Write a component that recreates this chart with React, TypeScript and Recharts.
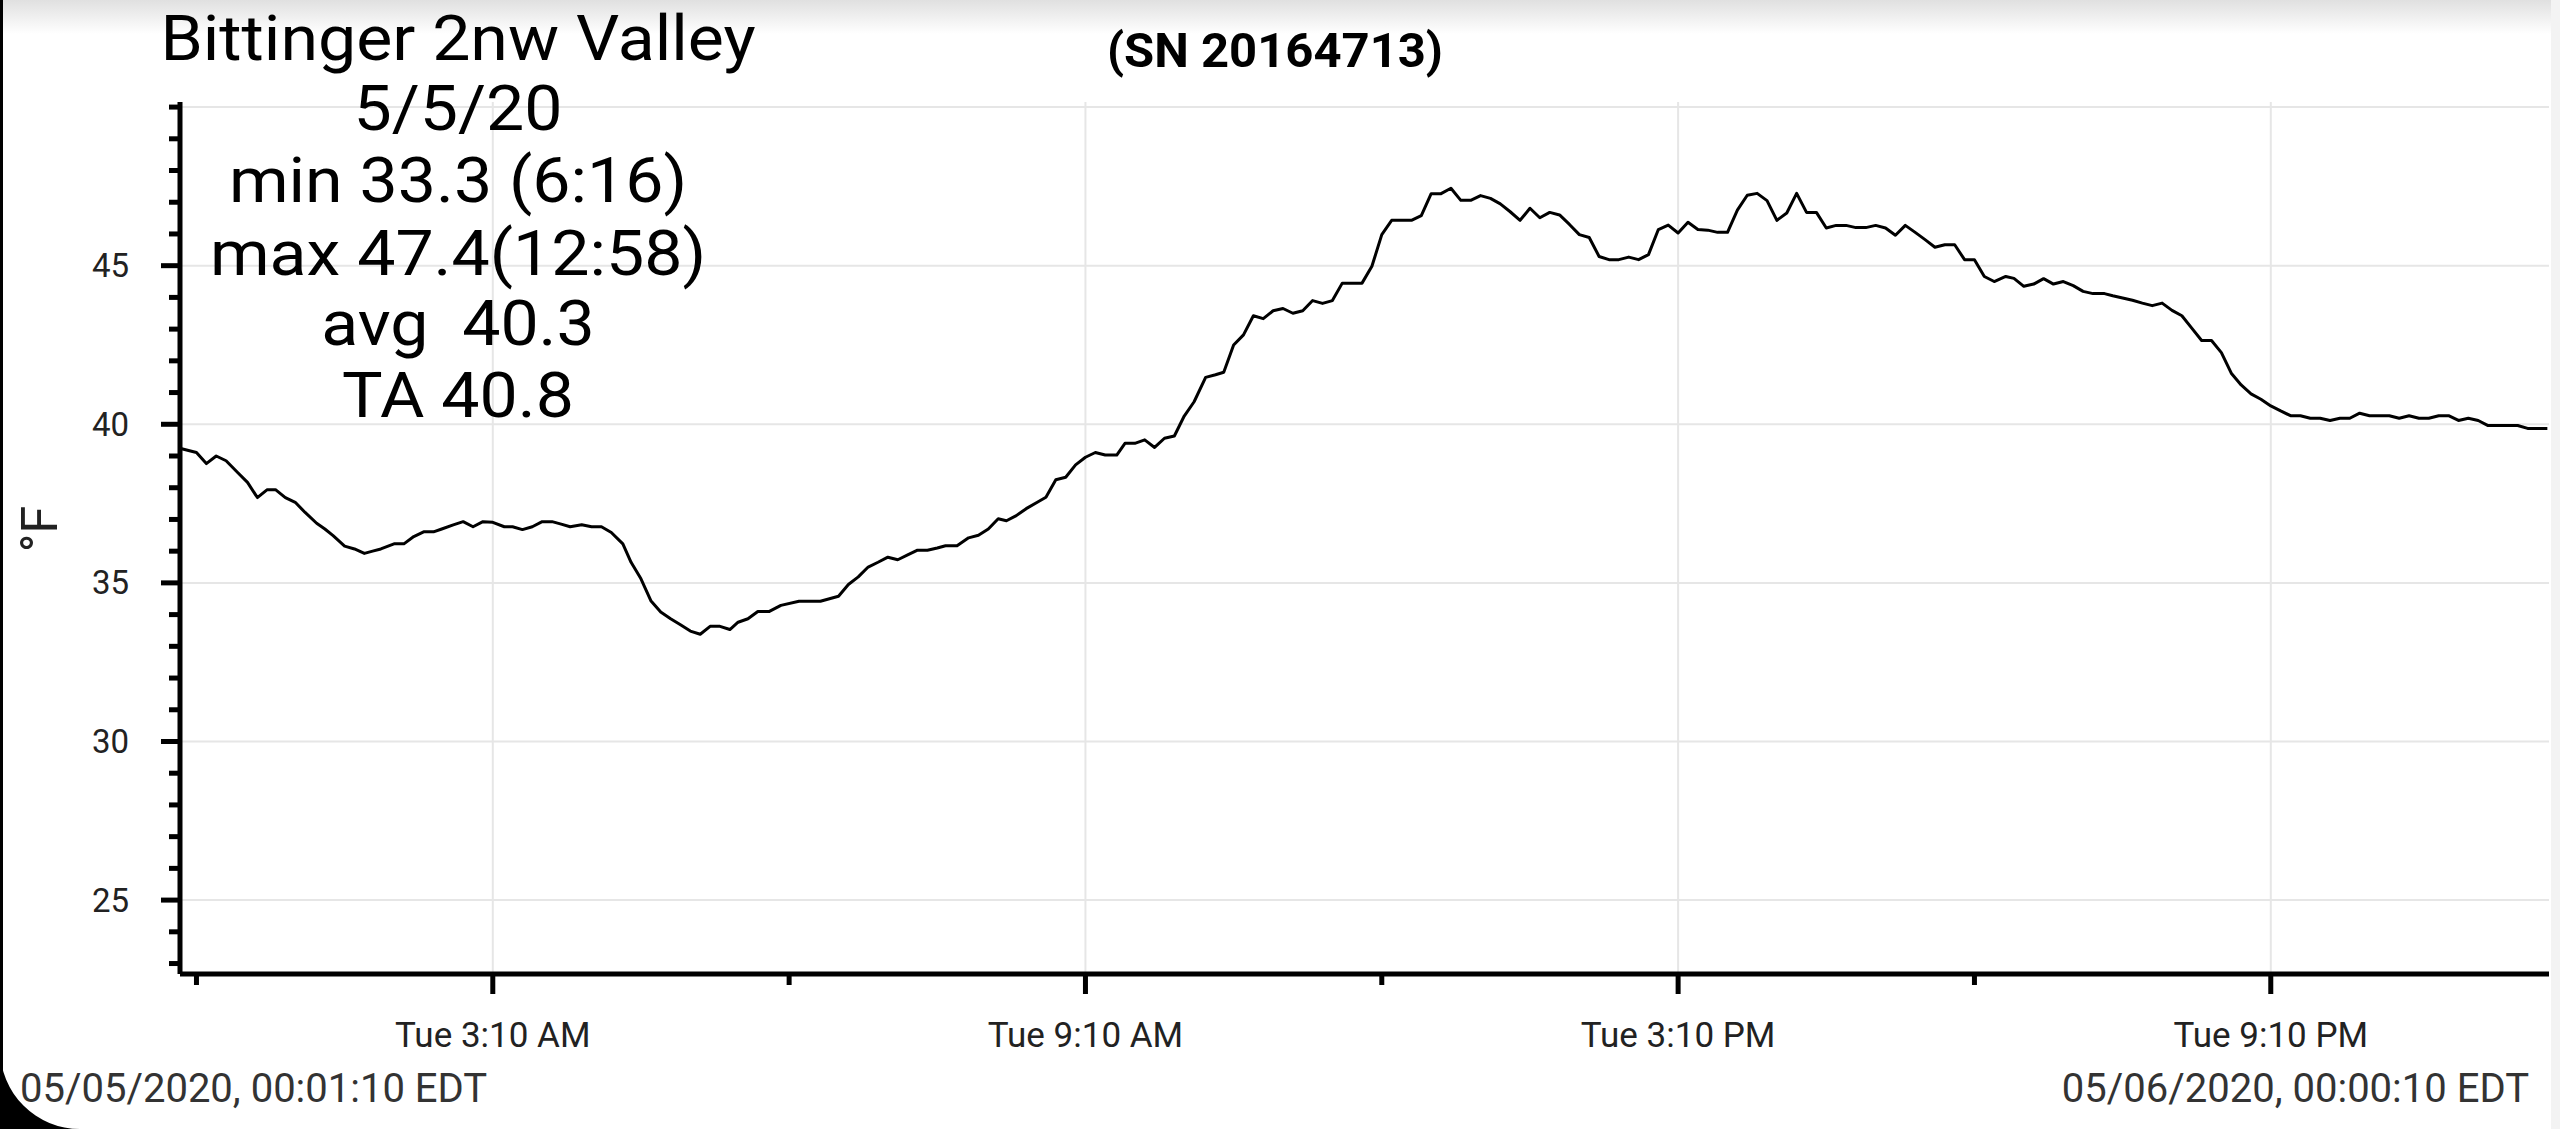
import React from "react";
import { LineChart, Line, XAxis, YAxis, CartesianGrid } from "recharts";

// minutes after midnight (5/5/20) and logged temperature in °F
const minutes = [
  1, 10, 16, 22, 28, 35, 41, 47, 53, 58, 64, 70, 76, 83, 88, 93, 100, 106, 112, 117,
  122, 130, 136, 142, 148, 154, 159, 166, 172, 178, 184, 190, 197, 202, 208, 214, 220, 226, 231, 237,
  244, 250, 256, 262, 269, 274, 280, 286, 292, 298, 304, 310, 316, 322, 328, 334, 339, 345, 351, 358,
  365, 376, 389, 400, 406, 412, 418, 424, 430, 436, 442, 448, 454, 460, 465, 472, 479, 485, 491, 497,
  502, 508, 514, 521, 526, 532, 538, 544, 550, 556, 562, 569, 574, 580, 586, 592, 598, 604, 610, 616,
  623, 629, 634, 640, 646, 652, 658, 664, 670, 676, 682, 688, 694, 700, 706, 712, 718, 724, 730, 736,
  742, 748, 754, 760, 766, 772, 778, 784, 790, 796, 802, 808, 814, 820, 826, 832, 838, 844, 850, 856,
  862, 868, 874, 880, 886, 892, 898, 904, 910, 916, 922, 928, 934, 940, 946, 952, 958, 964, 970, 976,
  982, 988, 994, 1000, 1006, 1012, 1018, 1024, 1030, 1036, 1042, 1048, 1054, 1060, 1066, 1072, 1078, 1084, 1090, 1096,
  1102, 1109, 1114, 1120, 1126, 1132, 1138, 1144, 1150, 1156, 1162, 1169, 1174, 1180, 1186, 1192, 1198, 1204, 1210, 1216,
  1222, 1228, 1234, 1240, 1246, 1252, 1258, 1264, 1270, 1276, 1282, 1288, 1294, 1300, 1306, 1312, 1318, 1324, 1330, 1336,
  1342, 1348, 1354, 1360, 1366, 1372, 1378, 1384, 1390, 1396, 1402, 1408, 1414, 1420, 1426, 1432, 1438,
];

const tempF = [
  39.23, 39.11, 38.76, 39.0, 38.85, 38.48, 38.17, 37.69, 37.94, 37.94, 37.69, 37.54, 37.22, 36.88, 36.7, 36.49, 36.16, 36.07, 35.93, 36.0,
  36.07, 36.23, 36.23, 36.46, 36.61, 36.61, 36.7, 36.83, 36.93, 36.77, 36.93, 36.91, 36.77, 36.77, 36.68, 36.77, 36.93, 36.93, 36.86, 36.77,
  36.83, 36.77, 36.77, 36.59, 36.23, 35.65, 35.13, 34.44, 34.08, 33.87, 33.68, 33.48, 33.38, 33.63, 33.63, 33.53, 33.76, 33.87, 34.1, 34.1,
  34.29, 34.42, 34.42, 34.58, 34.95, 35.19, 35.5, 35.65, 35.81, 35.73, 35.88, 36.03, 36.03, 36.1, 36.17, 36.17, 36.42, 36.5, 36.7, 37.02,
  36.96, 37.12, 37.34, 37.55, 37.7, 38.25, 38.33, 38.72, 38.96, 39.11, 39.03, 39.03, 39.4, 39.4, 39.51, 39.27, 39.56, 39.63, 40.26, 40.71,
  41.48, 41.56, 41.64, 42.5, 42.82, 43.42, 43.33, 43.58, 43.65, 43.5, 43.58, 43.9, 43.81, 43.9, 44.45, 44.45, 44.45, 44.98, 45.98, 46.43,
  46.43, 46.43, 46.58, 47.27, 47.27, 47.44, 47.06, 47.06, 47.21, 47.12, 46.95, 46.7, 46.43, 46.81, 46.51, 46.68, 46.6, 46.3, 45.98, 45.89,
  45.29, 45.19, 45.19, 45.27, 45.19, 45.35, 46.14, 46.28, 46.03, 46.37, 46.14, 46.12, 46.05, 46.05, 46.75, 47.22, 47.28, 47.05, 46.43, 46.66,
  47.28, 46.68, 46.68, 46.19, 46.27, 46.27, 46.2, 46.2, 46.27, 46.19, 45.96, 46.27, 46.05, 45.82, 45.58, 45.66, 45.66, 45.19, 45.19, 44.66,
  44.5, 44.66, 44.6, 44.35, 44.42, 44.59, 44.42, 44.5, 44.37, 44.19, 44.12, 44.12, 44.05, 43.98, 43.91, 43.82, 43.74, 43.82, 43.59, 43.42,
  43.03, 42.64, 42.64, 42.26, 41.61, 41.24, 40.96, 40.79, 40.58, 40.42, 40.27, 40.27, 40.19, 40.19, 40.12, 40.19, 40.19, 40.35, 40.27, 40.27,
  40.27, 40.19, 40.27, 40.19, 40.19, 40.27, 40.27, 40.12, 40.19, 40.12, 39.96, 39.96, 39.96, 39.96, 39.87, 39.87, 39.87,
];

const xTicks = [10, 190, 370, 550, 730, 910, 1090, 1270];
const xLabelTicks = [190, 550, 910, 1270];
const xTickLabels = ["Tue 3:10 AM", "Tue 9:10 AM", "Tue 3:10 PM", "Tue 9:10 PM"];
const xGrid = [190, 550, 910, 1270];

const yTicks = [23, 24, 25, 26, 27, 28, 29, 30, 31, 32, 33, 34, 35, 36, 37, 38, 39, 40, 41, 42, 43, 44, 45, 46, 47, 48, 49, 50];
const yLabelTicks = [25, 30, 35, 40, 45];
const yGrid = [25, 30, 35, 40, 45, 50];

const titleLines = ["Bittinger 2nw Valley", "5/5/20", "min 33.3 (6:16)", "max 47.4(12:58)", "avg  40.3", "TA 40.8"];
const serial = "(SN 20164713)";
const startStamp = "05/05/2020, 00:01:10 EDT";
const endStamp = "05/06/2020, 00:00:10 EDT";

const W = 2560;
const H = 1129;
const FONT = "Roboto, 'Noto Sans', sans-serif";

const data = minutes.map((m, i) => ({ t: m, temp: tempF[i] }));

function YTick({ x, y, payload }: any) {
  const v = payload.value;
  const major = yLabelTicks.includes(v);
  return (
    <g>
      <line x1={x - (major ? 19 : 11)} x2={x} y1={y} y2={y} stroke="#000" strokeWidth={5} />
      {major && (
        <text x={x - 51} y={y} dy="0.35em" textAnchor="end" fontFamily={FONT} fontSize={33} fill="#222">
          {v}
        </text>
      )}
    </g>
  );
}

function XTick({ x, y, payload }: any) {
  const idx = xLabelTicks.indexOf(payload.value);
  const major = idx >= 0;
  return (
    <g>
      <line x1={x} x2={x} y1={y} y2={y + (major ? 20 : 11)} stroke="#000" strokeWidth={5} />
      {major && (
        <text x={x} y={y + 73} textAnchor="middle" fontFamily={FONT} fontSize={35} fill="#222">
          {xTickLabels[idx]}
        </text>
      )}
    </g>
  );
}

export default function App() {
  return (
    <div style={{ position: "absolute", left: 0, top: 0, width: W, height: H, overflow: "hidden", background: "#fff" }}>
      <svg width={W} height={H} style={{ position: "absolute", left: 0, top: 0 }}>
        <defs>
          <linearGradient id="topband" x1="0" y1="0" x2="0" y2="1">
            <stop offset="0%" stopColor="#e0e0e0" />
            <stop offset="100%" stopColor="#ffffff" />
          </linearGradient>
        </defs>
        <rect x={0} y={0} width={W} height={34} fill="url(#topband)" />
        <rect x={2551} y={0} width={9} height={H} fill="#f3f3f3" />
      </svg>
      <div style={{ position: "absolute", left: 0, top: 0 }}>
        <LineChart width={W} height={H} data={data} margin={{ top: 102, right: 11, bottom: 55, left: 0 }}>
          <CartesianGrid
            stroke="#e6e6e6"
            strokeWidth={2}
            horizontalValues={yGrid}
            verticalValues={xGrid}
          />
          <XAxis
            dataKey="t"
            type="number"
            domain={[0, 1439]}
            ticks={xTicks}
            interval={0}
            height={100}
            tickSize={0}
            tickMargin={0}
            tickLine={false}
            axisLine={{ stroke: "#000", strokeWidth: 5 }}
            tick={<XTick />}
          />
          <YAxis
            type="number"
            domain={[22.67, 50.16]}
            ticks={yTicks}
            interval={0}
            width={180}
            tickSize={0}
            tickMargin={0}
            tickLine={false}
            allowDataOverflow
            axisLine={{ stroke: "#000", strokeWidth: 5 }}
            tick={<YTick />}
          />
          <Line
            type="linear"
            dataKey="temp"
            stroke="#000"
            strokeWidth={3}
            strokeLinejoin="round"
            dot={false}
            isAnimationActive={false}
          />
        </LineChart>
      </div>
      <svg width={W} height={H} style={{ position: "absolute", left: 0, top: 0, pointerEvents: "none" }}>
        <g transform="translate(458,0) scale(1.08,1)">
          {titleLines.map((line, i) => (
            <text
              key={i}
              x={0}
              y={[60, 130, 202, 275, 345, 417][i]}
              textAnchor="middle"
              fontFamily={FONT}
              fontSize={63}
              fill="#000"
              style={{ whiteSpace: "pre" }}
            >
              {line}
            </text>
          ))}
        </g>
        <text x={1275} y={67} textAnchor="middle" fontFamily={FONT} fontWeight="bold" fontSize={49} fill="#000">
          {serial}
        </text>
        <text
          x={39}
          y={529}
          transform="rotate(-90 39 529)"
          textAnchor="middle"
          dy="0.35em"
          fontFamily={FONT}
          fontSize={50}
          fill="#222"
        >
          °F
        </text>
        <text x={20} y={1102} fontFamily={FONT} fontSize={40} fill="#333">
          {startStamp}
        </text>
        <text x={2529} y={1102} textAnchor="end" fontFamily={FONT} fontSize={40} fill="#333">
          {endStamp}
        </text>
        <rect x={0} y={0} width={3} height={H} fill="#000" />
        <path d="M0,1049 A80,80 0 0 0 80,1129 L0,1129 Z" fill="#000" />
      </svg>
    </div>
  );
}
